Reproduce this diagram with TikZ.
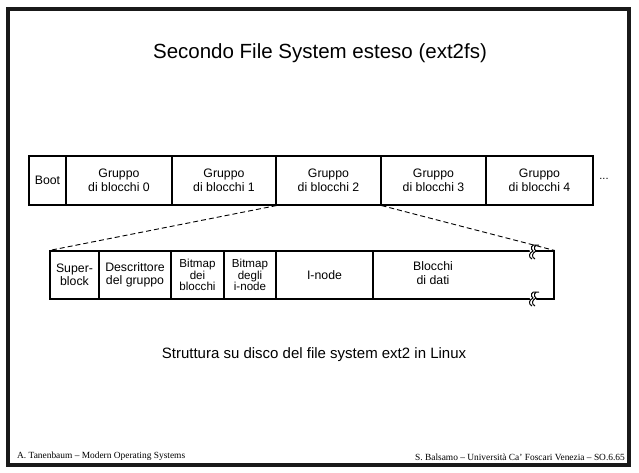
\documentclass[tikz,border=0pt]{standalone}
\usepackage{fontspec}
\setmainfont{Liberation Sans}
\newfontfamily\footfont{Liberation Serif}
\begin{document}
\begin{tikzpicture}[x=1pt,y=-1pt,
  cell/.style={draw,line width=1.1pt,inner sep=0pt,minimum height=49pt,align=center,
    font=\fontsize{12.3}{14}\selectfont},
  lcell/.style={draw,line width=1.1pt,inner sep=0pt,minimum height=48pt,align=center,
    font=\fontsize{12.3}{13.5}\selectfont},
  tight/.style={font=\fontsize{11.6}{11.4}\selectfont},
  zoomline/.style={dashed,dash pattern=on 5pt off 3pt,line width=0.9pt},
  brk/.pic={
    \fill[white] (-4,-4) -- (2,-4) -- (4,4) -- (-2,4) -- cycle;
    \draw[line width=1pt] (3,-7) .. controls (-2,-8) and (-3,-3) .. (0,-1) .. controls (-4,1) and (-5,5) .. (-1,7);
    \draw[line width=1pt] (6,-7) .. controls (1,-8) and (0,-3) .. (3,-1) .. controls (-1,1) and (-2,5) .. (2,7);
  }]
\useasboundingbox (0,0) rectangle (639,473);
\draw[line width=3.2pt,black!90] (8,9) rectangle (629,465);

\node[font=\fontsize{20.5}{24}\selectfont] (title) at (320,53) {Secondo File System esteso (ext2fs)};

% top row
\node[cell,minimum width=37pt]  (boot) at (47.5,180.5) {Boot};
\node[cell,minimum width=106pt] (g0) at (119,180.5) {Gruppo\\di blocchi 0};
\node[cell,minimum width=104pt] (g1) at (224,180.5) {Gruppo\\di blocchi 1};
\node[cell,minimum width=105pt] (g2) at (328.5,180.5) {Gruppo\\di blocchi 2};
\node[cell,minimum width=105pt] (g3) at (433.5,180.5) {Gruppo\\di blocchi 3};
\node[cell,minimum width=107pt] (g4) at (539.5,180.5) {Gruppo\\di blocchi 4};
\node[font=\fontsize{11}{13}\selectfont] (dots) at (604,179) {...};

% bottom row
\node[lcell,minimum width=49pt] (sb) at (74.5,275) {Super-\\block};
\node[lcell,minimum width=72pt] (desc) at (135,275) {Descrittore\\del gruppo};
\node[lcell,tight,minimum width=53pt] (bmb) at (197.5,275) {Bitmap\\dei\\blocchi};
\node[lcell,tight,minimum width=52pt] (bmi) at (250,275) {Bitmap\\degli\\i-node};
\node[lcell,minimum width=97pt] (inode) at (324.5,275) {I-node};
\node[lcell,minimum width=181pt] (dati) at (463.5,275) {};
\node[align=center,font=\fontsize{12.3}{14}\selectfont] (datitxt) at (433,273) {Blocchi\\di dati};

\draw[zoomline] (g1.south east) -- (sb.north west);
\draw[zoomline] (g2.south east) -- (dati.north east);

\pic at (533,252) {brk};
\pic at (533,299) {brk};

\node[anchor=south west,inner sep=0pt,font=\footfont\fontsize{9.4}{11}\selectfont] (fl) at (17,461) {A. Tanenbaum – Modern Operating Systems};
\node[anchor=south east,inner sep=0pt,font=\footfont\fontsize{9.4}{11}\selectfont] (fr) at (625,461) {S. Balsamo – Università Ca’ Foscari Venezia – SO.6.65};

\node[font=\fontsize{15}{18}\selectfont] (cap) at (314,355) {Struttura su disco del file system ext2 in Linux};
\end{tikzpicture}
\end{document}
